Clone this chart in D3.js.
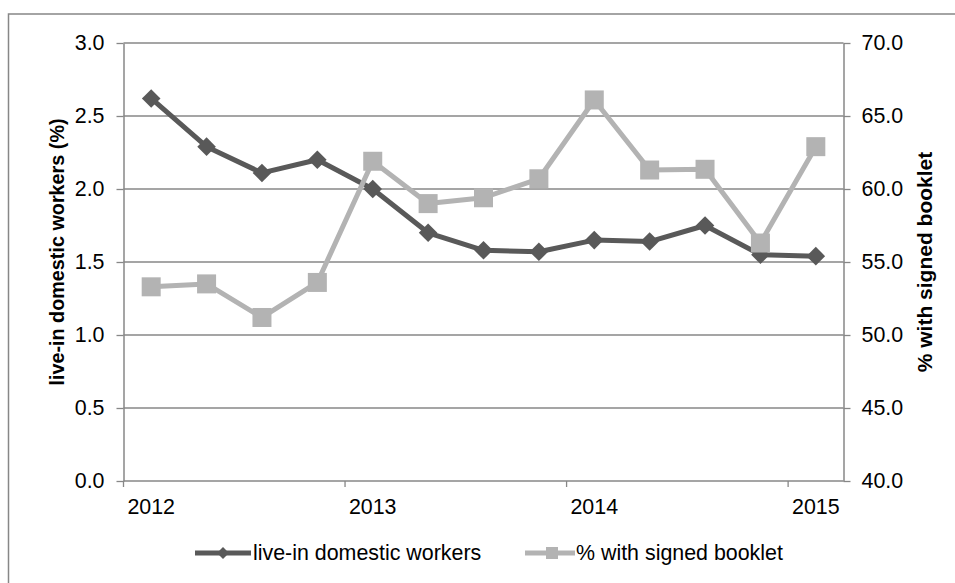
<!DOCTYPE html>
<html>
<head>
<meta charset="utf-8">
<script src="https://cdn.jsdelivr.net/npm/d3@7"></script>
<style>
  html, body { margin: 0; padding: 0; background: #fff; }
  svg { display: block; font-family: "Liberation Sans", Arial, sans-serif; }
</style>
</head>
<body>
<svg id="chart" width="955" height="583"></svg>
<script>
// Quarterly observations, 2012 Q1 – 2015 Q1
const quarters = ["2012Q1","2012Q2","2012Q3","2012Q4","2013Q1","2013Q2","2013Q3","2013Q4",
                  "2014Q1","2014Q2","2014Q3","2014Q4","2015Q1"];
const yearTicks = ["2012Q1","2013Q1","2014Q1","2015Q1"];
const yearLabels = ["2012","2013","2014","2015"];
// share of live-in domestic workers (%), left axis
const liveIn = [2.62, 2.29, 2.11, 2.20, 2.00, 1.70, 1.58, 1.57, 1.65, 1.64, 1.75, 1.55, 1.54];
// % with signed booklet, right axis
const signedBooklet = [53.3, 53.5, 51.2, 53.6, 61.9, 59.0, 59.4, 60.7, 66.1, 61.3, 61.35, 56.3, 62.9];
const leftTicks = [0, 0.5, 1.0, 1.5, 2.0, 2.5, 3.0];
const rightTicks = [40, 45, 50, 55, 60, 65, 70];
const seriesNames = ["live-in domestic workers", "% with signed booklet"];

const darkColor = "#595959";
const lightColor = "#b3b3b3";
const axisColor = "#878787";
const labelSize = "21.4px";

const svg = d3.select("#chart");
const plot = { left: 123.5, right: 843.5, top: 43, bottom: 481 };

// chart frame
svg.append("rect")
  .attr("x", 8.5).attr("y", 14)
  .attr("width", 1000).attr("height", 1000)
  .attr("fill", "none").attr("stroke", axisColor).attr("stroke-width", 1.5);

const x = d3.scaleBand().domain(quarters).range([plot.left, plot.right]);
const yL = d3.scaleLinear().domain([0, 3]).range([plot.bottom, plot.top]);
const yR = d3.scaleLinear().domain([40, 70]).range([plot.bottom, plot.top]);
const cx = d => x(d) + x.bandwidth() / 2;

// horizontal gridlines
svg.append("g").selectAll("line").data(leftTicks.slice(1)).join("line")
  .attr("x1", plot.left).attr("x2", plot.right)
  .attr("y1", d => yL(d)).attr("y2", d => yL(d))
  .attr("stroke", axisColor).attr("stroke-width", 1.3);

function styleAxis(g) {
  g.selectAll(".domain").attr("stroke", axisColor).attr("stroke-width", 1.5);
  g.selectAll(".tick line").attr("stroke", axisColor).attr("stroke-width", 1.3);
  g.selectAll(".tick text").attr("fill", "#000").style("font-size", labelSize)
    .style("font-family", "'Liberation Sans', Arial, sans-serif");
}

// left axis
const gL = svg.append("g").attr("transform", `translate(${plot.left},0)`)
  .call(d3.axisLeft(yL).tickValues(leftTicks).tickFormat(d3.format(".1f"))
        .tickSizeInner(7).tickSizeOuter(0).tickPadding(12));
styleAxis(gL);

// right axis
const gR = svg.append("g").attr("transform", `translate(${plot.right},0)`)
  .call(d3.axisRight(yR).tickValues(rightTicks).tickFormat(d3.format(".1f"))
        .tickSizeInner(7).tickSizeOuter(0).tickPadding(11));
styleAxis(gR);

// bottom axis: tick marks at year boundaries, labels centred on the first quarter
const gB = svg.append("g").attr("transform", `translate(0,${plot.bottom})`)
  .call(d3.axisBottom(x).tickValues(yearTicks)
        .tickFormat((d, i) => yearLabels[i])
        .tickSizeInner(6).tickSizeOuter(0).tickPadding(12));
styleAxis(gB);
gB.selectAll(".tick line").attr("x1", -x.bandwidth() / 2).attr("x2", -x.bandwidth() / 2);
gB.select(".domain").attr("d", `M${plot.left},0H${plot.right}`);

// axis titles
svg.append("text")
  .attr("transform", `translate(57,252) rotate(-90)`)
  .attr("text-anchor", "middle").attr("dominant-baseline", "central")
  .style("font-size", "19.8px").style("font-weight", "bold")
  .text("live-in domestic workers (%)");
svg.append("text")
  .attr("transform", `translate(924,262) rotate(-90)`)
  .attr("text-anchor", "middle").attr("dominant-baseline", "central")
  .style("font-size", "21px").style("font-weight", "bold")
  .text("% with signed booklet");

// dark series: live-in domestic workers
const lineL = d3.line().x((d, i) => cx(quarters[i])).y(d => yL(d));
svg.append("path").datum(liveIn)
  .attr("d", lineL).attr("fill", "none")
  .attr("stroke", darkColor).attr("stroke-width", 5).attr("stroke-linejoin", "round");
const diamond = d3.symbol().type(d3.symbolDiamond2).size(220);
svg.append("g").selectAll("path").data(liveIn).join("path")
  .attr("d", diamond)
  .attr("transform", (d, i) => `translate(${cx(quarters[i])},${yL(d)})`)
  .attr("fill", darkColor);

// light series: % with signed booklet
const lineR = d3.line().x((d, i) => cx(quarters[i])).y(d => yR(d));
svg.append("path").datum(signedBooklet)
  .attr("d", lineR).attr("fill", "none")
  .attr("stroke", lightColor).attr("stroke-width", 5).attr("stroke-linejoin", "round");
const sq = 19;
svg.append("g").selectAll("rect").data(signedBooklet).join("rect")
  .attr("x", (d, i) => cx(quarters[i]) - sq / 2)
  .attr("y", d => yR(d) - sq / 2)
  .attr("width", sq).attr("height", sq)
  .attr("fill", lightColor);

// legend
const legendY = 553;
const leg = svg.append("g");
leg.append("line").attr("x1", 195).attr("x2", 251).attr("y1", legendY).attr("y2", legendY)
  .attr("stroke", darkColor).attr("stroke-width", 5);
leg.append("path").attr("d", d3.symbol().type(d3.symbolDiamond2).size(90))
  .attr("transform", `translate(223,${legendY})`).attr("fill", darkColor);
leg.append("text").attr("x", 253).attr("y", legendY).attr("dominant-baseline", "central")
  .style("font-size", labelSize).text(seriesNames[0]);

leg.append("line").attr("x1", 525).attr("x2", 575).attr("y1", legendY).attr("y2", legendY)
  .attr("stroke", lightColor).attr("stroke-width", 5);
leg.append("rect").attr("x", 546).attr("y", legendY - 6).attr("width", 12).attr("height", 12)
  .attr("fill", lightColor);
leg.append("text").attr("x", 576).attr("y", legendY).attr("dominant-baseline", "central")
  .style("font-size", labelSize).text(seriesNames[1]);
</script>
</body>
</html>
